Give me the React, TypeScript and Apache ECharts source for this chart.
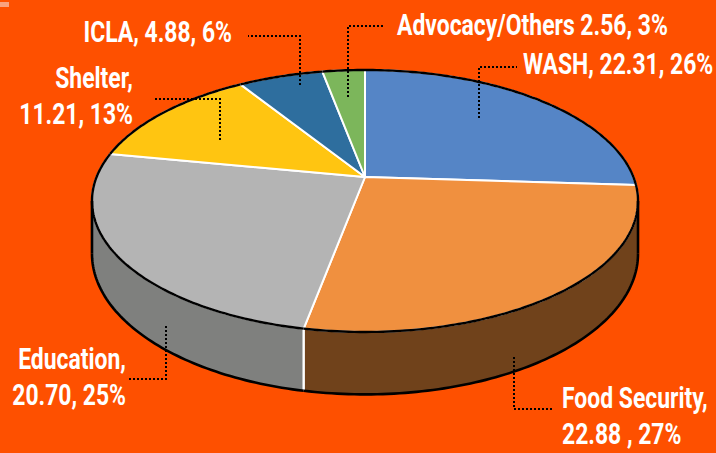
import React, { useEffect, useRef } from "react";
import * as echarts from "echarts";

// ---- data ----
const names = ["WASH", "Food Security", "Education", "Shelter", "ICLA", "Advocacy/Others"];
const values = [22.31, 22.88, 20.7, 11.21, 4.88, 2.56];
const percents = [26, 27, 25, 13, 6, 3];
const nameSeps = [", ", ",\n", ",\n", ",\n", ", ", " "];
const valueSeps = [", ", " , ", ", ", ", ", ", ", ", "];

// ---- styles ----
const topColors = ["#5585C6", "#F0903F", "#B4B4B4", "#FFC511", "#2E6E9E", "#7CB65B"];
const sideColors = ["#3A5E8F", "#70421B", "#7F807E", "#B38A0C", "#1F4C6E", "#577F40"];
const BG = "#FE5000";

// ---- 3D pie geometry (perspective projection of a tilted disc) ----
const CX = 365;
const CY = 177;
const RA = 268.4;
const RB = 126.6;
const K = 0.183;
const DEPTH = 51;
const SIL0 = Math.asin(K);
const SIL1 = Math.PI - Math.asin(K);

// ---- label layout ----
const labelLayout = [
  { align: "left", x: 523, y: 64.5, leader: [[479, 118], [479, 67], [517, 67]] },
  { align: "left", x: 562, y: 398, leader: [[514, 357], [514, 409], [552, 409]] },
  { align: "right", x: 126, y: 359, leader: [[166, 326], [166, 379], [129, 379]] },
  { align: "right", x: 133, y: 78, leader: [[220, 140], [220, 99], [155, 99]] },
  { align: "right", x: 232, y: 32.5, leader: [[300, 85], [300, 36], [248, 36]] },
  { align: "left", x: 397, y: 25, leader: [[348, 97], [348, 26], [385, 26]] },
];

function project(t: number, dz = 0): number[] {
  const u = Math.cos(t);
  const v = Math.sin(t);
  const d = 1 - K * v;
  return [CX + (RA * u) / d, CY + (RB * v + DEPTH * dz) / d];
}

function arc(a0: number, a1: number, dz = 0): number[][] {
  const n = Math.max(2, Math.ceil(((a1 - a0) * 180) / Math.PI));
  const pts: number[][] = [];
  for (let j = 0; j <= n; j++) pts.push(project(a0 + ((a1 - a0) * j) / n, dz));
  return pts;
}

export default function App() {
  const ref = useRef<HTMLDivElement>(null);
  useEffect(() => {
    document.body.style.margin = "0";
    const chart = echarts.init(ref.current!, null, { renderer: "svg" });
    const total = percents.reduce((s, v) => s + v, 0);
    const starts: number[] = [];
    const ends: number[] = [];
    let acc = 0;
    percents.forEach((v) => {
      starts.push(-Math.PI / 2 + (acc / total) * Math.PI * 2);
      acc += v;
      ends.push(-Math.PI / 2 + (acc / total) * Math.PI * 2);
    });

    const renderItem = (params: any) => {
      const i = params.dataIndex;
      const a0 = starts[i];
      const a1 = ends[i];
      const children: any[] = [];
      const rim = arc(a0, a1);
      children.push({
        type: "polygon",
        shape: { points: [[CX, CY], ...rim] },
        style: { fill: topColors[i], stroke: "#fff", lineWidth: 2, lineJoin: "round" },
        z2: 2,
      });
      children.push({
        type: "polyline",
        shape: { points: rim },
        style: { stroke: "#000", lineWidth: 2.4, fill: null },
        z2: 6,
      });
      const s = Math.max(a0, SIL0);
      const e = Math.min(a1, SIL1);
      if (e > s) {
        const topPts = arc(s, e, 0);
        const botPts = arc(s, e, 1);
        children.push({
          type: "polygon",
          shape: { points: [...topPts, ...botPts.slice().reverse()] },
          style: { fill: sideColors[i] },
          z2: 1,
        });
        children.push({
          type: "polyline",
          shape: { points: botPts },
          style: { stroke: "#000", lineWidth: 2.6, fill: null },
          z2: 6,
        });
        [
          [s, s === a0],
          [e, e === a1],
        ].forEach(([ang, isBoundary]: any) => {
          const p0 = project(ang, 0);
          const p1 = project(ang, 1);
          children.push({
            type: "line",
            shape: { x1: p0[0], y1: p0[1], x2: p1[0], y2: p1[1] },
            style: isBoundary
              ? { stroke: "#fff", lineWidth: 2 }
              : { stroke: "#000", lineWidth: 2.6 },
            z2: isBoundary ? 3 : 6,
          });
        });
      }
      const lay = labelLayout[i];
      children.push({
        type: "polyline",
        shape: { points: lay.leader },
        style: { stroke: "#000", lineWidth: 2, lineDash: [2, 2], fill: null },
        z2: 8,
      });
      const text =
        names[i] + nameSeps[i] + values[i].toFixed(2) + valueSeps[i] + percents[i] + "%";
      text.split("\n").forEach((line, li) => {
        children.push({
          type: "text",
          x: lay.x,
          y: lay.y + li * 36,
          scaleX: 0.79,
          style: {
            text: line,
            x: 0,
            y: 0,
            fill: "#fff",
            fontSize: 29,
            fontWeight: "bold",
            fontFamily: "Roboto, 'DejaVu Sans', sans-serif",
            align: lay.align,
            verticalAlign: "middle",
          },
          z2: 10,
        });
      });
      return { type: "group", children };
    };

    chart.setOption({
      animation: false,
      backgroundColor: BG,
      graphic: [
        { type: "rect", shape: { x: 0, y: 2, width: 9, height: 5 }, style: { fill: "#F9A27E" } },
      ],
      series: [
        {
          type: "custom",
          coordinateSystem: "none",
          renderItem,
          data: percents.map((v, i) => ({ value: v, name: names[i] })),
        },
      ],
    });
    return () => chart.dispose();
  }, []);
  return <div ref={ref} style={{ width: 716, height: 453 }} />;
}
